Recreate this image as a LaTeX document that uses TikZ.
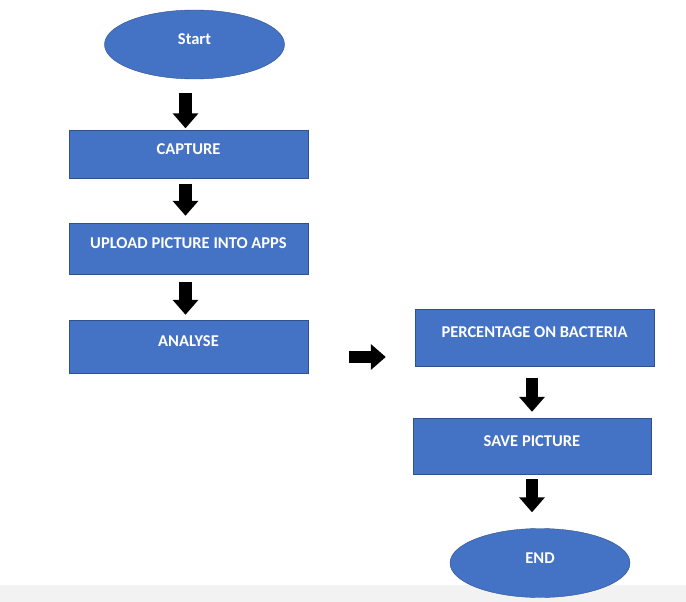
\documentclass[tikz,border=0pt]{standalone}
\usepackage{fontspec}
\setmainfont{Carlito}
\usepackage{xcolor}
\usetikzlibrary{arrows.meta,shapes.geometric,positioning}
\definecolor{boxblue}{HTML}{4472C4}
\definecolor{boxedge}{HTML}{2F528F}
\colorlet{bandgray}{black!5}

\begin{document}
\begin{tikzpicture}[
x=1pt,y=-1pt,
FlowBox/.style={rectangle,draw=boxedge,fill=boxblue,thin,text=white,
  font=\fontsize{16.5}{18}\selectfont\bfseries,inner sep=0pt,
  text height=0pt,text depth=0pt,minimum width=239pt},
FlowEnds/.style={ellipse,draw=boxedge,fill=boxblue,thin,text=white,
  font=\fontsize{16.5}{18}\selectfont\bfseries,inner sep=0pt,
  text height=0pt,text depth=0pt,minimum width=180pt,minimum height=69pt},
BlockArrow/.style={-{Triangle[length=15pt,width=25pt]},line width=12.5pt,black}
]
\useasboundingbox (0,0) rectangle (686,602);
\fill[bandgray] (0,585) rectangle (686,602);

% coordinates of the boxes (pixels, y going down)
\coordinate (S) at (194.5,44.5);
\coordinate (C) at (188.5,154.5);
\coordinate (U) at (188.5,248.5);
\coordinate (A) at (188.5,346.5);
\coordinate (P) at (534.5,337.5);
\coordinate (V) at (532,446);
\coordinate (E) at (540,563);

\node[FlowEnds] (start) at (S) {Start};
\node[FlowBox,minimum height=48pt] (capture) at (C) {CAPTURE};
\node[FlowBox,minimum height=51pt] (upload) at (U) {UPLOAD PICTURE INTO APPS};
\node[FlowBox,minimum height=53pt] (analyse) at (A) {ANALYSE};
\node[FlowBox,minimum height=57pt] (percent) at (P) {PERCENTAGE ON BACTERIA};
\node[FlowBox,minimum height=56pt,minimum width=238pt] (save) at (V) {SAVE PICTURE};
\node[FlowEnds] (end) at (E) {END};

\draw[BlockArrow,shorten <=14pt,shorten >=2pt] ([xshift=-3pt]capture.north |- start.south) -- ([xshift=-3pt]capture.north);
\draw[BlockArrow,shorten <=5pt,shorten >=7pt] ([xshift=-3pt]capture.south) -- ([xshift=-3pt]upload.north);
\draw[BlockArrow,shorten <=8pt,shorten >=5pt] ([xshift=-3pt]upload.south) -- ([xshift=-3pt]analyse.north);
\draw[BlockArrow,shorten <=41pt,shorten >=29pt] ([yshift=-10.5pt]analyse.east) -- ([yshift=-10.5pt]analyse.east -| percent.west);
\draw[BlockArrow,shorten <=12pt,shorten >=6pt] (save.north |- percent.south) -- (save.north);
\draw[BlockArrow,shorten <=5pt,shorten >=16pt] (save.south) -- (save.south |- end.north);

\end{tikzpicture}
\end{document}
